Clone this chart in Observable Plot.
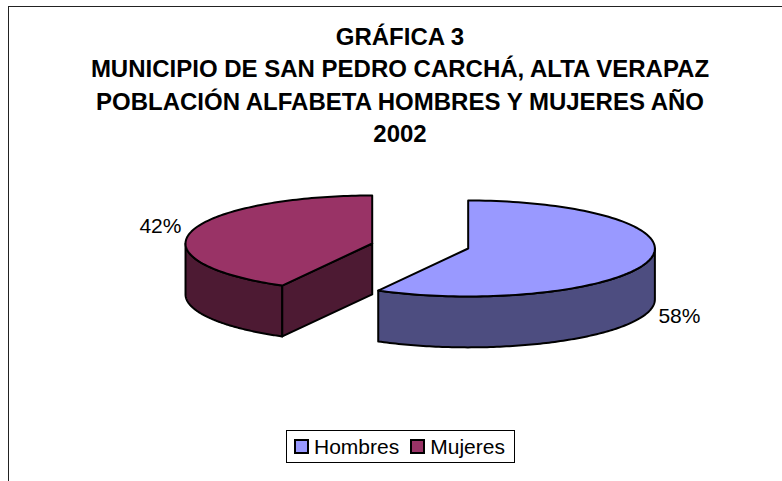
<!DOCTYPE html>
<html lang="es">
<head>
<meta charset="utf-8">
<script src="https://cdn.jsdelivr.net/npm/d3@7"></script>
<script src="https://cdn.jsdelivr.net/npm/@observablehq/plot@0.6"></script>
<style>
html,body{margin:0;padding:0;background:#fff;overflow:hidden}
#page{position:relative;width:782px;height:481px;font-family:"Liberation Sans",Arial,sans-serif;color:#000}
#frame{position:absolute;left:8px;top:6px;right:-2px;bottom:-2px;border:1.3px solid #222}
#title{position:absolute;left:8px;width:784px;top:21px;text-align:center;font-weight:bold;font-size:24px;line-height:32.3px}
#chart{position:absolute;left:0;top:0}
#legend{position:absolute;left:286px;top:430px;width:229px;height:33px;box-sizing:border-box;border:1px solid #000;background:#fff;font-size:21px;display:flex;align-items:center;padding-left:7px}
#legend .sw{display:inline-block;width:15px;height:15px;box-sizing:border-box;border:2px solid #000;margin-right:5px}
#legend .it{display:flex;align-items:center;margin-right:11px;line-height:1;position:relative}
</style>
</head>
<body>
<div id="page">
  <div id="frame"></div>
  <div id="title"></div>
  <div id="chart"></div>
  <div id="legend"></div>
</div>
<script>
const titleLines = [
  "GRÁFICA 3",
  "MUNICIPIO DE SAN PEDRO CARCHÁ, ALTA VERAPAZ",
  "POBLACIÓN ALFABETA HOMBRES Y MUJERES AÑO",
  "2002"
];
const categories = ["Hombres", "Mujeres"];
const shares = [58, 42];
const topColors = ["#9999FF", "#993366"];
const sideColors = ["#4D4D80", "#4D1A33"];
const explodeX = [0.257, -0.257];
const explodeY = [0.052, -0.052];
const labelX = [1.276, -1.279];
const labelY = [1.47, -0.41];
const labelAnchor = ["start", "end"];
const depth = 1.06;

document.getElementById("title").innerHTML = titleLines.join("<br>");
document.getElementById("legend").innerHTML = categories.map((c, i) =>
  `<span class="it"><span class="sw" style="background:${topColors[i]}"></span>${c}</span>`).join("");

// Clockwise angle from north, tilted pie in unit coordinates
const total = d3.sum(shares);
const pt = (a, i, dz = 0) => ({
  x: explodeX[i] + Math.sin(a),
  y: explodeY[i] - Math.cos(a) + dz
});
const arc = (a0, a1, i, dz = 0) => {
  const n = 120;
  return d3.range(n + 1).map(k => pt(a0 + (a1 - a0) * k / n, i, dz));
};
const centre = (i, dz = 0) => ({x: explodeX[i], y: explodeY[i] + dz});
const close = p => [...p, p[0]];
const style = {x: "x", y: "y", stroke: "#000", strokeWidth: 2, strokeLinejoin: "round", curve: "linear"};

const marks = [];
let start = 0;
shares.forEach((v, i) => {
  const a0 = start, a1 = start + v / total * 2 * Math.PI;
  start = a1;
  // Visible part of the outer wall: the front half of the ellipse
  const w0 = Math.max(a0, Math.PI / 2), w1 = Math.min(a1, 3 * Math.PI / 2);
  if (w1 > w0) {
    const wall = close([...arc(w0, w1, i), ...arc(w1, w0, i, depth)]);
    marks.push(Plot.line(wall, {...style, fill: sideColors[i]}));
  }
  // Cut face that turns toward the viewer
  if (a0 > Math.PI) {
    const face = close([centre(i), pt(a0, i), pt(a0, i, depth), centre(i, depth)]);
    marks.push(Plot.line(face, {...style, fill: sideColors[i]}));
  }
  const top = close([centre(i), ...arc(a0, a1, i)]);
  marks.push(Plot.line(top, {...style, fill: topColors[i]}));
  marks.push(Plot.text([{label: v + "%", x: labelX[i], y: labelY[i]}], {
    x: "x", y: "y", text: "label", textAnchor: labelAnchor[i], fontSize: 21, fill: "#000"
  }));
});

const plot = Plot.plot({
  width: 782,
  height: 481,
  margin: 0,
  style: {background: "transparent", fontFamily: "'Liberation Sans', Arial, sans-serif"},
  x: {domain: [-1, 1], range: [233, 606.4], axis: null},
  y: {domain: [-1, 1], range: [197.5, 293.5], axis: null},
  marks
});
document.getElementById("chart").appendChild(plot);
</script>
</body>
</html>
